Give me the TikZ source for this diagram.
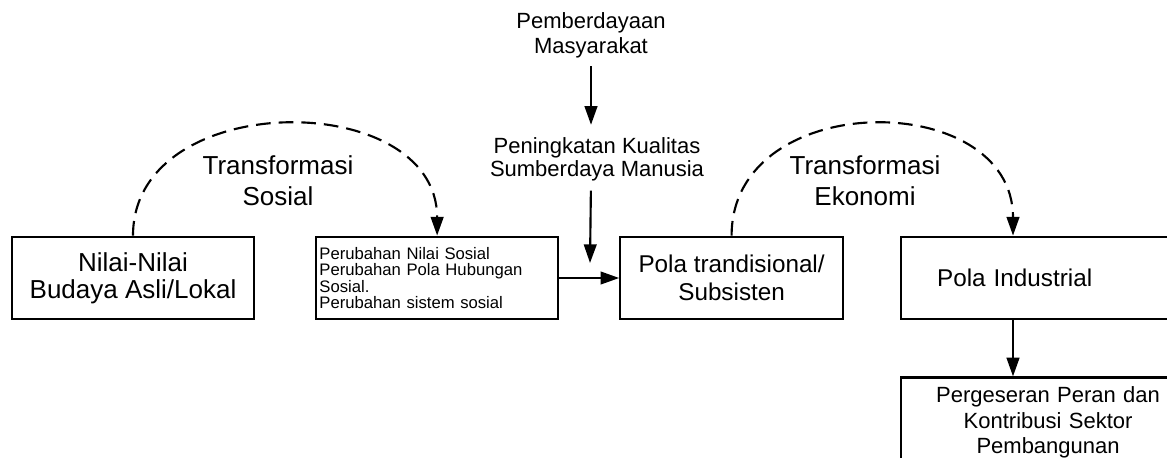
\documentclass[tikz,border=0pt]{standalone}
\usepackage{fontspec}
\setmainfont{Liberation Sans}
\usetikzlibrary{arrows.meta, positioning, calc}

\begin{document}
\begin{tikzpicture}[
x=0.75pt, y=-0.75pt,
node distance=45pt,
box/.style={rectangle, draw=black, line width=1.6pt, align=center, minimum height=62pt, inner sep=0pt},
arrow/.style={-{Triangle[length=14pt, width=9.5pt]}, line width=1.6pt},
dasharc/.style={arrow, dash pattern=on 11pt off 6pt},
lbl/.style={align=center, inner sep=0pt}
]
\useasboundingbox (0,0) rectangle (1167,457);

\node[box, minimum width=181.5pt, font=\fontsize{19.5}{20.5}\selectfont] (nilai) at (133,278) {Nilai-Nilai\\Budaya Asli/Lokal};
\node[box, right=of nilai, align=left, text width=176.5pt, inner xsep=2.5pt, font=\fontsize{12.5}{12.4}\selectfont] (perub) {Perubahan Nilai Sosial\\Perubahan Pola Hubungan\\Sosial.\\Perubahan sistem sosial};
\node[box, right=of perub, minimum width=167pt, font=\fontsize{18.2}{21}\selectfont] (trad) {Pola trandisional/\\Subsisten};
\node[box, right=42pt of trad, align=left, text width=166.5pt, inner xsep=27pt, font=\fontsize{18.2}{21}\selectfont] (ind) {Pola Industrial};
\node[box, below=42pt of ind, text width=180pt, inner xsep=20.25pt, minimum height=67.5pt, font=\fontsize{16.5}{19}\selectfont] (perg) {Pergeseran Peran dan\\Kontribusi Sektor\\Pembangunan};

% labels above the boxes
\node[lbl, font=\fontsize{19.5}{23}\selectfont] (tsos) at (278,181) {Transformasi\\Sosial};
\node[lbl, font=\fontsize{19.5}{23}\selectfont] (teko) at (865,181) {Transformasi\\Ekonomi};
\node[lbl, font=\fontsize{16.5}{19}\selectfont] (emp) at (591,35) {Pemberdayaan\\Masyarakat};
\node[lbl, font=\fontsize{16.5}{17.5}\selectfont] (sdm) at (597,159) {Peningkatan Kualitas\\Sumberdaya Manusia};
\coordinate (tip) at (590,263);

\draw[arrow, shorten <=6pt, shorten >=9pt] (emp.south) -- (emp.south |- sdm.north);
\draw[arrow, shorten <=7pt] (sdm.south -| emp.south) -- (tip);
\draw[arrow] (perub) -- (trad);
\draw[arrow] ($(ind.south west)+(113,0)$) -- ($(perg.north west)+(113,0)$);

\draw[dasharc] (nilai.north) .. controls +(0,-148) and +(0,-148) .. (perub.north);
\draw[dasharc] (trad.north) .. controls +(0,-148) and +(0,-148) .. ($(ind.north west)+(113,0)$);
\end{tikzpicture}
\end{document}
